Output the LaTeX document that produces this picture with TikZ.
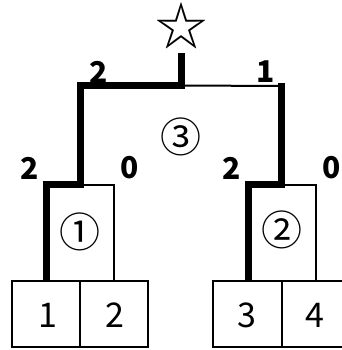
\documentclass[tikz,border=0pt]{standalone}
\usepackage{fontspec}
\newfontfamily\jp{Noto Sans CJK JP}
\begin{document}
\begin{tikzpicture}[x=1pt,y=-1pt,
  thinline/.style={line width=2pt},
  winline/.style={line width=7pt,line join=miter},
  num/.style={font=\jp\fontsize{34}{34}\selectfont,inner sep=0pt},
  score/.style={font=\jp\bfseries\fontsize{30}{30}\selectfont,inner sep=0pt},
  circ/.style={font=\jp\fontsize{41}{41}\selectfont,inner sep=0pt}]
\useasboundingbox (0,0) rectangle (341,350);
% Players
\draw[thinline] (12,281) rectangle (148,347);
\draw[thinline] (80,281) -- (80,347);
\draw[thinline] (213,281) rectangle (345,347);
\draw[thinline] (282,281) -- (282,347);
\node[num] (p1) at (48,315) {1};
\node[num] (p2) at (115,315) {2};
\node[num] (p3) at (247,315) {3};
\node[num] (p4) at (315,315) {4};
% Matches
\coordinate (a1) at (46.5,281);
\coordinate (a2) at (114,281);
\coordinate (b1) at (248,281);
\coordinate (b2) at (316,281);
\coordinate (ja) at (80,184.5);
\coordinate (jb) at (281,184.5);
\coordinate (top) at (181,85.5);
\draw[thinline] (ja) -| (a2);
\draw[thinline] (jb) -| (b2);
\draw[thinline] (top) -- (281,86);
% Winners
\draw[winline] (a1) |- (ja) |- (top) -- (181,53);
\draw[winline] (b1) |- (jb) -- (281,83);
\node[circ] (m1) at (80,232) {①};
\node[circ] (m2) at (282,230) {②};
\node[circ] (m3) at (181,137) {③};
\node[font=\jp\fontsize{52}{52}\selectfont,inner sep=0pt] (star) at (181,25.5) {☆};
% Scores
\node[score] (s1a) at (30,168) {2};
\node[score] (s1b) at (130,168) {0};
\node[score] (s2a) at (232,168) {2};
\node[score] (s2b) at (332,168) {0};
\node[score] (s3a) at (99,72) {2};
\node[score] (s3b) at (266,72) {1};
\end{tikzpicture}
\end{document}
